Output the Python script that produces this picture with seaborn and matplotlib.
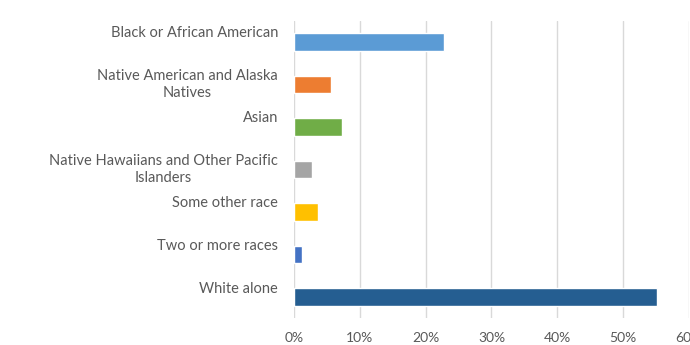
import matplotlib
matplotlib.use("Agg")
import matplotlib.pyplot as plt
import matplotlib.transforms as mtransforms
from matplotlib.ticker import PercentFormatter, MultipleLocator
import seaborn as sns
import pandas as pd

categories = [
    "Black or African American",
    "Native American and Alaska\nNatives",
    "Asian",
    "Native Hawaiians and Other Pacific\nIslanders",
    "Some other race",
    "Two or more races",
    "White alone",
]
values = [22.8, 5.6, 7.3, 2.7, 3.7, 1.2, 55.1]
colors = ["#5B9BD5", "#ED7D31", "#70AD47", "#A5A5A5", "#FFC000", "#4472C4", "#255E91"]

df = pd.DataFrame({"category": categories, "value": values})

sns.set_theme(style="white")
plt.rcParams["font.family"] = ["Lato", "DejaVu Sans"]

fig = plt.figure(figsize=(6.9, 3.45), dpi=100)
ax = fig.add_axes([0.426, 0.0775, 0.5725, 0.8625])

sns.barplot(data=df, y="category", x="value", hue="category", palette=colors,
            order=categories, hue_order=categories, orient="h", width=0.42,
            legend=False, ax=ax, saturation=1)

ax.set_xlim(0, 60)
ax.xaxis.set_major_locator(MultipleLocator(10))
ax.xaxis.set_major_formatter(PercentFormatter(decimals=0))
ax.set_xlabel("")
ax.set_ylabel("")
for s in ax.spines.values():
    s.set_visible(False)
ax.grid(axis="x", color="#D9D9D9", linewidth=1.0)
ax.grid(axis="y", visible=False)
ax.set_axisbelow(True)
ax.tick_params(axis="x", length=0, pad=10, labelsize=10, labelcolor="#595959")
ax.tick_params(axis="y", length=0, pad=11.5, labelsize=10.5, labelcolor="#595959")

offset = mtransforms.ScaledTranslation(0, 0.155, fig.dpi_scale_trans)
for lab in ax.get_yticklabels():
    lab.set_verticalalignment("top")
    lab.set_multialignment("center")
    lab.set_linespacing(1.3)
    lab.set_transform(lab.get_transform() + offset)

fig.savefig("out.png", dpi=100)
